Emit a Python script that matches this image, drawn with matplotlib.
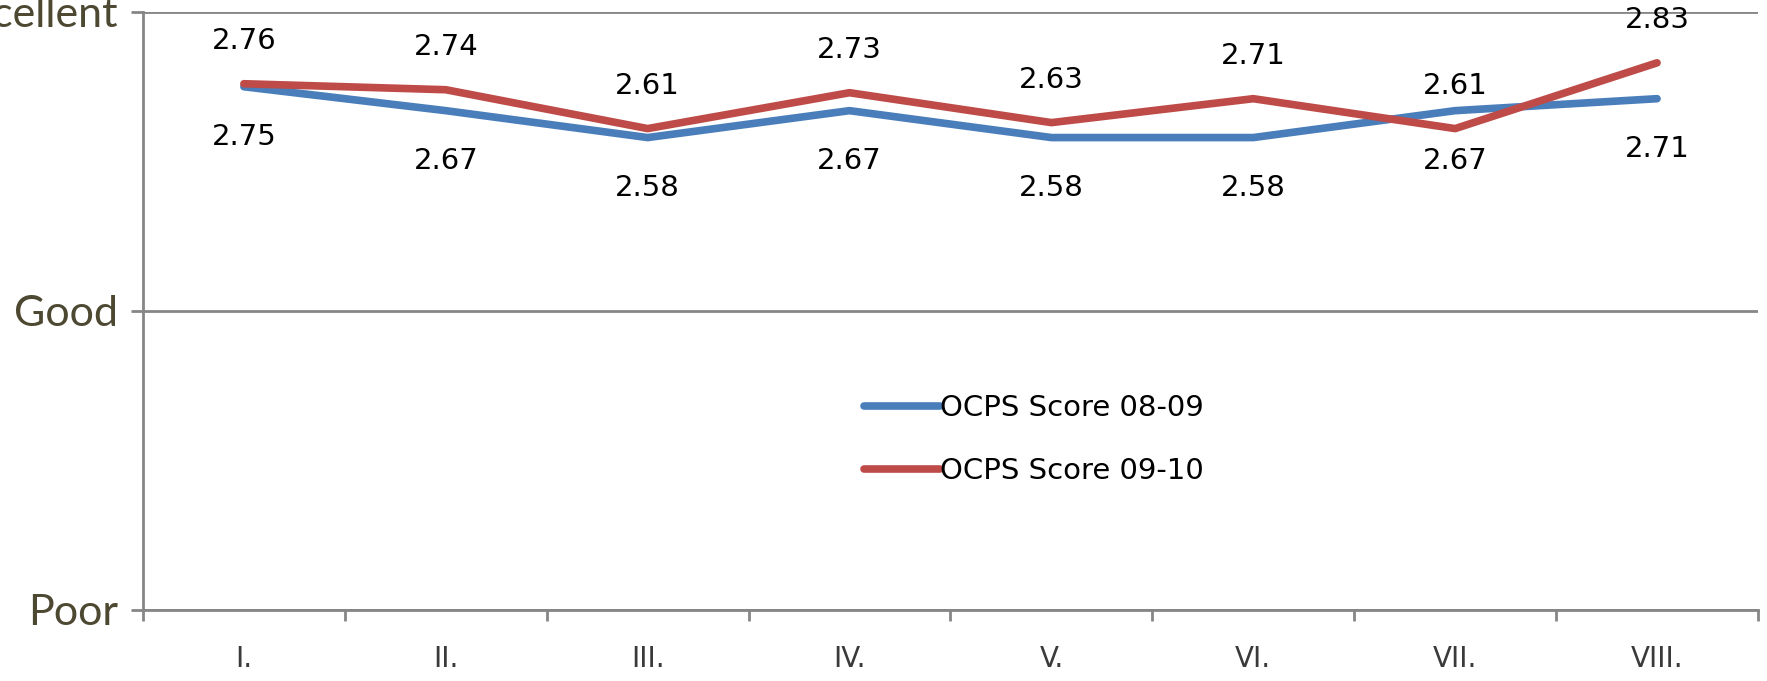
import matplotlib.pyplot as plt
import numpy as np

# ---------------------------
# Data
# ---------------------------
categories = ["I.", "II.", "III.", "IV.", "V.", "VI.", "VII.", "VIII."]
score_0809 = [2.75, 2.67, 2.58, 2.67, 2.58, 2.58, 2.67, 2.71]
score_0910 = [2.76, 2.74, 2.61, 2.73, 2.63, 2.71, 2.61, 2.83]
rating_levels = [1, 2, 3]
rating_labels = ["Poor", "Good", "Excellent"]

BLUE = "#4A7EBB"
RED = "#BE4B48"
AXIS_GRAY = "#868686"
LABEL_OLIVE = "#4D4831"

fig = plt.figure(figsize=(17.67, 6.81), dpi=100)
ax = fig.add_axes([0.0809, 0.1043, 0.9140, 0.8781])

x = np.arange(len(categories))
ax.plot(x, score_0809, color=BLUE, lw=5.5, solid_capstyle="round", label="OCPS Score 08-09", zorder=3)
ax.plot(x, score_0910, color=RED, lw=5.5, solid_capstyle="round", label="OCPS Score 09-10", zorder=4)

# data labels: red above, blue below
for xi, v in zip(x, score_0910):
    ax.annotate(f"{v:.2f}", (xi, v), xytext=(0, 31), textcoords="offset points",
                ha="center", va="center", fontsize=21, color="black", family="DejaVu Sans")
for xi, v in zip(x, score_0809):
    ax.annotate(f"{v:.2f}", (xi, v), xytext=(0, -36), textcoords="offset points",
                ha="center", va="center", fontsize=21, color="black", family="DejaVu Sans")

# axes
ax.set_xlim(-0.5, len(categories) - 0.5)
ax.set_ylim(1, 3)
ax.set_yticks(rating_levels)
ax.set_yticklabels(rating_labels, fontsize=31, color=LABEL_OLIVE, family="Lato")
ax.set_xticks(x)
ax.set_xticklabels(categories, fontsize=20, color="#3a3a3a", family="DejaVu Sans")
ax.set_xticks(np.arange(-0.5, len(categories)), minor=True)
ax.tick_params(axis="x", which="major", length=0, pad=25)
ax.tick_params(axis="x", which="minor", length=8, width=2, color=AXIS_GRAY)
ax.tick_params(axis="y", length=9, width=2, color=AXIS_GRAY, pad=9)

ax.grid(axis="y", color=AXIS_GRAY, lw=2)
ax.set_axisbelow(True)
for side in ["top", "right"]:
    ax.spines[side].set_visible(False)
for side in ["left", "bottom"]:
    ax.spines[side].set_color(AXIS_GRAY)
    ax.spines[side].set_linewidth(2)

leg = ax.legend(loc="center left", bbox_to_anchor=(0.4464, 0.285), frameon=False,
                prop={"family": "DejaVu Sans", "size": 21}, handlelength=2.62,
                handletextpad=0.0, labelspacing=1.2, borderpad=0, borderaxespad=0)

fig.savefig("out.png", dpi=100)
